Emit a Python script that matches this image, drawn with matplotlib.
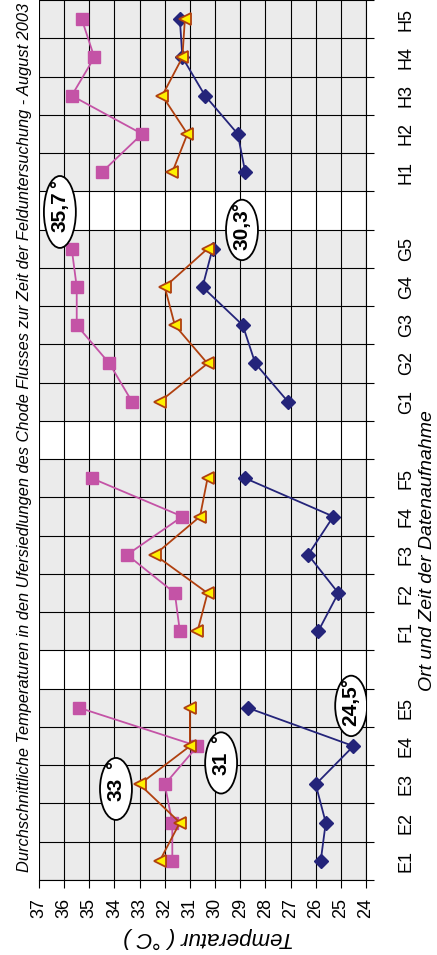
import matplotlib
matplotlib.use("Agg")
import matplotlib.pyplot as plt
from matplotlib.patches import Ellipse
from matplotlib.ticker import FixedLocator

plt.rcParams["font.family"] = ["Liberation Sans Narrow", "Liberation Sans", "DejaVu Sans"]

# ---- data -------------------------------------------------------------
groups = ["E", "F", "G", "H"]
stations = [f"{g}{i}" for g in groups for i in range(1, 6)]

# mean temperatures (°C) per sampling point, three series
temp_blue = [25.8, 25.6, 26.0, 24.5, 28.7,
             25.9, 25.1, 26.3, 25.3, 28.8,
             27.1, 28.4, 28.9, 30.5, 30.1,
             28.8, 29.1, 30.4, 31.3, 31.4]
temp_magenta = [31.7, 31.7, 32.0, 30.7, 35.4,
                31.4, 31.6, 33.5, 31.3, 34.9,
                33.3, 34.2, 35.5, 35.5, 35.7,
                34.5, 32.9, 35.7, 34.8, 35.3]
temp_orange = [32.2, 31.4, 33.0, 31.0, 31.0,
               30.7, 30.3, 32.4, 30.6, 30.3,
               32.2, 30.3, 31.6, 32.0, 30.3,
               31.7, 31.1, 32.1, 31.3, 31.2]

temp_ticks = list(range(24, 38))

# highlighted readings: (series, station, value)
callouts = [("orange", "E3", 33.0), ("orange", "E4", 31.0),
            ("blue", "E4", 24.5), ("magenta", "G5", 35.7),
            ("orange", "G5", 30.3)]

# ---- layout -----------------------------------------------------------
per_group = 5
slot_of = {s: gi * (per_group + 1) + j
           for gi, g in enumerate(groups)
           for j, s in enumerate(stations[gi * per_group:(gi + 1) * per_group])}
n_slots = len(groups) * (per_group + 1) - 1

W, H = 437, 955
fig = plt.figure(figsize=(W / 100, H / 100), dpi=100)
ax = fig.add_axes([39 / W, 75 / H, 327 / W, 880 / H])
ax.set_xlim(37, 24)
ax.set_ylim(-0.5, n_slots - 0.5)

# grey bands behind every station, white gaps between the river sections
for s in stations:
    ax.axhspan(slot_of[s] - 0.5, slot_of[s] + 0.5, color="#EBEBEB", lw=0, zorder=0)

# grid
ax.xaxis.set_major_locator(FixedLocator(temp_ticks))
ax.set_xticklabels([str(t) for t in temp_ticks], rotation=90, fontsize=13)
ax.yaxis.set_major_locator(FixedLocator([slot_of[s] for s in stations]))
ax.set_yticklabels(stations, rotation=90, fontsize=13, va="center")
ax.yaxis.set_minor_locator(FixedLocator([k - 0.5 for k in range(n_slots + 1)]))
ax.yaxis.tick_right()
ax.grid(axis="x", which="major", color="black", lw=0.8, zorder=1)
ax.grid(axis="y", which="minor", color="black", lw=0.8, zorder=1)
ax.tick_params(axis="x", which="major", direction="out", length=6, width=0.8, pad=7)
ax.tick_params(axis="y", which="major", length=0, pad=23)
ax.tick_params(axis="y", which="minor", direction="out", length=6, width=0.8)
for side in ("left", "top"):
    ax.spines[side].set_visible(False)
for side in ("right", "bottom"):
    ax.spines[side].set_linewidth(0.8)
ax.set_axisbelow(True)

# series, one polyline per river section
styles = {
    "blue": dict(color="#24247A", marker="D", ms=7, mfc="#24247A", mec="#24247A"),
    "magenta": dict(color="#C453A6", marker="s", ms=9.3, mfc="#C453A6", mec="#C453A6"),
    "orange": dict(color="#B0400F", marker="<", ms=9, mfc="#FFF000", mec="#B0400F", mew=1.3),
}
series = {"blue": temp_blue, "magenta": temp_magenta, "orange": temp_orange}
for z, name in enumerate(["blue", "magenta", "orange"]):
    vals = series[name]
    for gi in range(len(groups)):
        seg = slice(gi * per_group, (gi + 1) * per_group)
        ys = [slot_of[s] for s in stations[seg]]
        ax.plot(vals[seg], ys, lw=1.3, zorder=3 + z, **styles[name])

# callout ellipses
callout_offsets = [(0.94, -0.12), (-1.24, -0.44), (0.09, 1.05), (0.47, 0.96), (-1.37, 0.49)]
callout_heights = [1.62, 1.60, 1.58, 1.88, 1.58]
for (name, st, val), (dx, dy), h in zip(callouts, callout_offsets, callout_heights):
    cx, cy = val + dx, slot_of[st] + dy
    ax.add_patch(Ellipse((cx, cy), width=1.27, height=h, facecolor="white",
                         edgecolor="black", lw=1.3, zorder=8))
    label = f"{val:g}".replace(".", ",")
    ax.text(cx, cy, label, rotation=90, ha="center", va="center",
            fontsize=15, fontweight="bold", zorder=9)
    ax.annotate("°", xy=(cx, cy), xytext=(-1, 17 * h / 1.6), textcoords="offset points",
                rotation=90, ha="center", va="center", fontsize=14, fontweight="bold",
                zorder=9)

# axis titles
ax.set_xlabel("Temperatur ( °C )", rotation=180, fontsize=16, style="italic", va="center")
ax.xaxis.set_label_coords((208 - 39) / 327, (880 - 938) / 880)
ax.yaxis.set_label_position("right")
ax.set_ylabel("Ort und Zeit der Datenaufnahme", rotation=90, fontsize=14,
              style="italic", va="center", ha="center")
ax.yaxis.set_label_coords((427 - 39) / 327, (880 - 551) / 880)

fig.text(25 / W, 1 - 437 / H,
         "Durchschnittliche Temperaturen in den Ufersiedlungen des Chode Flusses "
         "zur Zeit der Felduntersuchung - August 2003",
         rotation=90, ha="center", va="center", fontsize=11.8, style="italic")

fig.savefig("out.png", dpi=100)
